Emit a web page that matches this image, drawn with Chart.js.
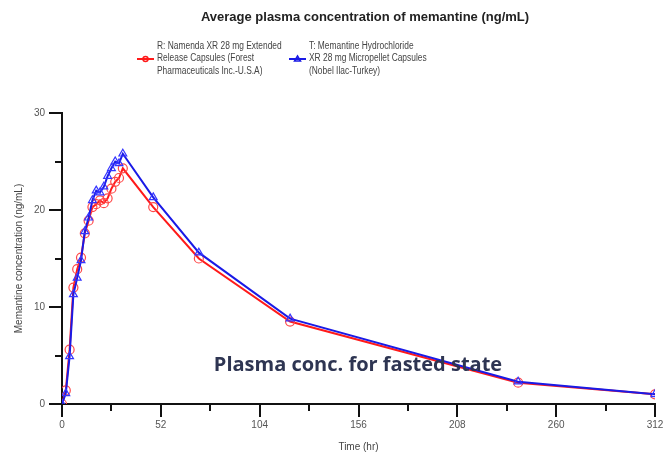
<!DOCTYPE html>
<html>
<head>
<meta charset="utf-8">
<script src="https://cdn.jsdelivr.net/npm/chart.js@4/dist/chart.umd.min.js"></script>
<style>
  html, body { margin: 0; padding: 0; background: #fff; }
  #wrap { width: 666px; height: 453px; position: relative; }
</style>
</head>
<body>
<div id="wrap"><canvas id="pk"></canvas></div>
<script>
// sampling times (hr) and mean concentrations (ng/mL)
const hours = [0, 2, 4, 6, 8, 10, 12, 14, 16, 18, 20, 22, 24, 26, 28, 30, 32, 48, 72, 120, 240, 312];
const refConc = [0, 1.4, 5.6, 12.0, 13.9, 15.1, 17.6, 18.9, 20.3, 20.6, 21.0, 20.7, 21.2, 22.2, 22.9, 23.3, 24.3, 20.3, 15.0, 8.5, 2.2, 1.0];
const testConc = [0, 1.1, 4.9, 11.3, 13.0, 14.8, 17.8, 19.2, 21.0, 22.0, 21.8, 22.4, 23.5, 24.3, 25.0, 24.8, 25.8, 21.3, 15.6, 8.8, 2.3, 1.0];

const xTicks = [0, 52, 104, 156, 208, 260, 312];
const yTicks = [0, 10, 20, 30];

const refLabel = ['R: Namenda XR 28 mg Extended', 'Release Capsules (Forest', 'Pharmaceuticals Inc.-U.S.A)'];
const testLabel = ['T: Memantine Hydrochloride', 'XR 28 mg Micropellet Capsules', '(Nobel Ilac-Turkey)'];

const RED = '#ff1a1a';
const BLUE = '#1a1ae6';

const pts = arr => hours.map((h, i) => ({ x: h, y: arr[i] }));

// tick marks: long at labelled values, short in between
const tickMarks = {
    id: 'tickMarks',
    afterDraw(chart) {
        const { ctx, scales: { x, y } } = chart;
        ctx.save();
        ctx.strokeStyle = '#111';
        ctx.lineWidth = 2;
        for (let v = 0; v <= 312; v += 26) {
            const px = Math.round(x.getPixelForValue(v));
            const len = xTicks.includes(v) ? 13 : 7;
            ctx.beginPath(); ctx.moveTo(px, y.bottom); ctx.lineTo(px, y.bottom + len); ctx.stroke();
        }
        for (let v = 0; v <= 30; v += 5) {
            const py = Math.round(y.getPixelForValue(v));
            const len = yTicks.includes(v) ? 13 : 7;
            ctx.beginPath(); ctx.moveTo(x.left, py); ctx.lineTo(x.left - len, py); ctx.stroke();
        }
        ctx.restore();
    }
};

// heading, two-column legend and the fasted-state caption
const headings = {
    id: 'headings',
    afterDraw(chart) {
        const ctx = chart.ctx;
        ctx.save();
        ctx.fillStyle = '#222';
        ctx.font = 'bold 13px "Liberation Sans", Arial, sans-serif';
        ctx.textAlign = 'center';
        ctx.textBaseline = 'middle';
        ctx.fillText('Average plasma concentration of memantine (ng/mL)', 365, 17);

        const item = (x0, color, lines, marker) => {
            ctx.strokeStyle = color;
            ctx.fillStyle = color;
            ctx.lineWidth = 2;
            ctx.beginPath(); ctx.moveTo(x0, 59); ctx.lineTo(x0 + 17, 59); ctx.stroke();
            ctx.lineWidth = 1.5;
            ctx.beginPath();
            if (marker === 'circle') {
                ctx.arc(x0 + 8.5, 59, 2.5, 0, Math.PI * 2);
            } else {
                ctx.moveTo(x0 + 8.5, 56); ctx.lineTo(x0 + 11.5, 61); ctx.lineTo(x0 + 5.5, 61); ctx.closePath();
            }
            ctx.stroke();
            ctx.fillStyle = '#444';
            ctx.font = '10px "Liberation Sans", Arial, sans-serif';
            ctx.textAlign = 'left';
            // narrow face: squeeze each line to about 84% of its width
            lines.forEach((t, i) => ctx.fillText(t, x0 + 20, 46 + i * 12.5, ctx.measureText(t).width * 0.84));
        };
        item(137, RED, refLabel, 'circle');
        item(289, BLUE, testLabel, 'triangle');

        ctx.fillStyle = '#2e3552';
        ctx.font = 'bold 20px "Open Sans", sans-serif';
        ctx.textAlign = 'center';
        ctx.fillText('Plasma conc. for fasted state', 358, 365);
        ctx.restore();
    }
};

new Chart(document.getElementById('pk'), {
    type: 'line',
    data: {
        datasets: [
            {
                label: testLabel.join(' '),
                data: pts(testConc),
                borderColor: BLUE,
                borderWidth: 2,
                pointStyle: 'triangle',
                pointRadius: 4.5,
                pointBorderWidth: 1.2,
                pointBorderColor: '#3535ff',
                pointBackgroundColor: 'rgba(0,0,0,0)'
            },
            {
                label: refLabel.join(' '),
                data: pts(refConc),
                borderColor: RED,
                borderWidth: 2,
                pointStyle: 'circle',
                pointRadius: 4.5,
                pointBorderWidth: 1.2,
                pointBorderColor: '#ff4848',
                pointBackgroundColor: 'rgba(0,0,0,0)'
            }
        ]
    },
    options: {
        responsive: true,
        maintainAspectRatio: false,
        animation: false,
        layout: { padding: { left: 0, right: 0, top: 113, bottom: 0 } },
        plugins: { legend: { display: false }, tooltip: { enabled: false } },
        scales: {
            x: {
                type: 'linear',
                min: 0,
                max: 312,
                afterFit: s => { s.height = 49; s.paddingRight = 11; },
                grid: { display: false },
                border: { display: true, color: '#111', width: 2 },
                ticks: {
                    stepSize: 26,
                    autoSkip: false,
                    maxRotation: 0,
                    padding: 7,
                    color: '#555',
                    font: { size: 10, family: '"Liberation Sans", Arial, sans-serif' },
                    callback: v => xTicks.includes(v) ? String(v) : ''
                },
                title: {
                    display: true,
                    text: 'Time (hr)',
                    color: '#444',
                    padding: { top: 4, bottom: 0 },
                    font: { size: 10, family: '"Liberation Sans", Arial, sans-serif' }
                }
            },
            y: {
                min: 0,
                max: 30,
                afterFit: s => { s.width = 62; },
                grid: { display: false },
                border: { display: true, color: '#111', width: 2 },
                ticks: {
                    stepSize: 5,
                    padding: 9,
                    color: '#555',
                    font: { size: 10, family: '"Liberation Sans", Arial, sans-serif' },
                    callback: v => yTicks.includes(v) ? String(v) : ''
                },
                title: {
                    display: true,
                    text: 'Memantine concentration (ng/mL)',
                    color: '#444',
                    padding: { top: 13, bottom: 0 },
                    font: { size: 10, family: '"Liberation Sans", Arial, sans-serif' }
                }
            }
        }
    },
    plugins: [tickMarks, headings]
});
</script>
</body>
</html>
